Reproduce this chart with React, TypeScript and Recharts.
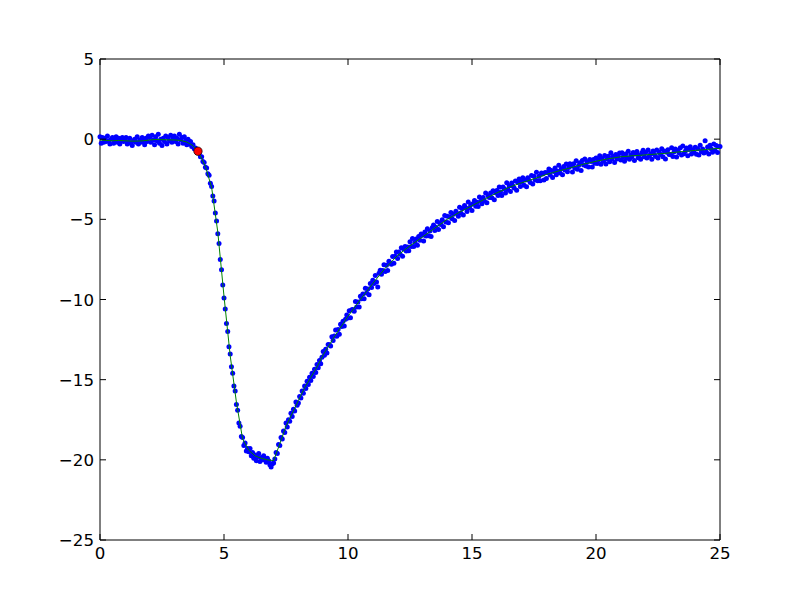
import {
  ComposedChart,
  Scatter,
  XAxis,
  YAxis,
} from "recharts";

// samples are taken every 0.05 on x, starting at 0
const SAMPLE_STEP = 0.05;

// x 0.00 .. 3.95 (flat baseline)
const baseline = [
  0.15, -0.25, 0.1, -0.2, 0.05, -0.15, 0.2, -0.1, -0.3, 0.0, 0.1, -0.25, -0.05, 0.15, -0.2, 0.05, -0.3, -0.1, 0.1, -0.15,
  -0.05, 0.1, -0.3, -0.15, 0.05, -0.25, -0.4, -0.1, 0.0, -0.2, 0.15, -0.3, -0.05, -0.2, 0.1, -0.1, -0.35, 0.05, -0.15, 0.2,
  0.1, -0.2, 0.25, -0.05, -0.35, 0.15, -0.1, 0.3, -0.25, 0.0, -0.4, 0.05, -0.15, 0.2, -0.3, 0.1, -0.1, 0.25, -0.2, 0.05,
  0.2, -0.15, 0.05, -0.3, 0.3, -0.05, 0.1, -0.25, 0.15, -0.1, -0.35, 0.0, -0.3, -0.15, -0.45, -0.35, -0.6, -0.55, -0.75, -0.8,
];

// x 4.00 .. 6.95 (drop and minimum)
const drop = [
  -0.85, -1.1, -1.1, -1.4, -1.45, -1.75, -1.8, -2.15, -2.25, -2.75, -2.95, -3.55, -3.85, -4.6, -5.1, -5.9, -6.5, -7.5, -8.15, -9.1,
  -9.9, -10.6, -11.5, -12.0, -12.95, -13.4, -14.2, -14.6, -15.4, -15.7, -16.55, -16.9, -17.7, -17.9, -18.55, -18.6, -19.1, -18.95, -19.45, -19.3,
  -19.5, -19.3, -19.75, -19.55, -19.9, -19.7, -20.05, -19.8, -19.6, -20.1, -19.85, -20.0, -19.75, -19.95, -20.15, -19.9, -20.05, -20.3, -20.45, -20.25,
];

// x 7.00 .. 14.95 (recovery)
const recovery = [
  -20.2, -19.95, -19.55, -19.6, -19.05, -19.1, -18.6, -18.7, -18.2, -18.3, -17.7, -17.95, -17.5, -17.6, -17.1, -17.3, -16.85, -16.95, -16.4, -16.6,
  -16.45, -16.05, -16.15, -15.7, -15.85, -15.4, -15.55, -15.1, -15.3, -14.85, -15.05, -14.6, -14.8, -14.35, -14.55, -14.05, -14.25, -13.8, -14.0, -13.6,
  -13.25, -13.48, -13.1, -13.33, -12.8, -12.83, -12.9, -12.33, -12.55, -12.28, -11.9, -12.29, -11.87, -12.16, -11.54, -11.68, -11.36, -11.65, -11.23, -10.97,
  -11.15, -10.7, -11.14, -10.64, -10.63, -10.73, -10.12, -10.47, -10.16, -10.46, -9.8, -9.95, -9.65, -9.95, -9.3, -9.6, -9.35, -9.7, -9.0, -9.25,
  -8.8, -9.0, -8.51, -8.91, -9.22, -8.37, -8.18, -8.43, -8.19, -7.84, -8.25, -7.87, -8.19, -7.61, -7.73, -7.8, -7.32, -7.74, -7.31, -7.03,
  -7.45, -7.04, -7.18, -6.77, -7.31, -6.85, -6.69, -6.98, -6.72, -6.96, -6.4, -6.7, -6.19, -6.69, -6.43, -6.23, -6.62, -6.07, -6.31, -5.91,
  -6.0, -6.35, -5.79, -6.04, -5.58, -6.03, -5.72, -6.07, -5.51, -5.36, -5.7, -5.5, -5.14, -5.64, -5.23, -5.33, -5.02, -5.47, -4.76, -5.16,
  -4.8, -5.21, -4.86, -4.57, -4.97, -4.68, -5.08, -4.49, -4.64, -4.8, -4.25, -4.61, -4.32, -4.73, -4.14, -4.3, -4.51, -3.92, -4.28, -4.09,
];

// x 15.00 .. 25.00 (slow tail)
const tail = [
  -4.45, -4.01, -3.82, -4.18, -3.94, -4.2, -3.61, -3.87, -4.03, -3.64, -3.85, -3.36, -3.97, -3.53, -3.64, -3.35, -3.66, -3.22, -3.78, -3.34,
  -3.2, -3.52, -2.98, -3.3, -3.51, -2.98, -3.09, -3.36, -2.72, -3.14, -2.9, -3.27, -2.74, -2.92, -3.04, -2.61, -3.18, -2.7, -2.48, -2.95,
  -2.67, -2.4, -2.87, -2.55, -2.97, -2.4, -2.57, -2.7, -2.27, -2.8, -2.32, -2.54, -2.07, -2.59, -2.31, -2.59, -2.11, -2.18, -2.55, -2.08,
  -2.45, -2.08, -1.86, -2.23, -1.96, -2.39, -2.02, -1.8, -2.22, -2.0, -1.63, -2.11, -1.84, -2.22, -1.7, -1.93, -1.55, -2.03, -1.76, -1.54,
  -1.67, -2.05, -1.53, -1.81, -1.34, -1.87, -1.64, -1.47, -1.95, -1.33, -1.61, -1.24, -1.67, -1.41, -1.74, -1.27, -1.4, -1.73, -1.27, -1.5,
  -1.18, -1.51, -1.3, -1.03, -1.57, -1.2, -1.38, -1.02, -1.55, -1.24, -1.07, -1.41, -0.85, -1.23, -1.07, -1.46, -0.95, -1.24, -1.07, -0.86,
  -1.3, -0.84, -1.09, -1.38, -0.92, -1.17, -0.76, -1.25, -0.99, -1.09, -0.83, -1.33, -0.92, -0.77, -1.16, -1.01, -1.25, -0.85, -0.69, -1.09,
  -0.83, -1.17, -0.67, -1.06, -0.91, -1.25, -0.74, -0.94, -1.08, -0.68, -1.17, -0.81, -0.96, -0.6, -1.09, -0.74, -1.23, -0.82, -0.66, -0.96,
  -0.95, -0.54, -1.08, -0.78, -0.62, -1.11, -0.7, -0.84, -0.54, -0.98, -0.42, -0.91, -0.76, -0.55, -1.04, -0.64, -0.48, -0.92, -0.66, -0.81,
  -0.5, -0.94, -0.59, -0.98, -0.38, -0.77, -0.61, -0.86, -0.1, -0.8, -0.49, -0.93, -0.38, -0.62, -0.81, -0.3, -0.7, -0.39, -0.83, -0.48,
  -0.45,
];

// fitted curve, every 0.25 on x
const FIT_STEP = 0.25;
const fitValues = [
  -0.05, -0.08, -0.1, -0.08,
  -0.1, -0.12, -0.12, -0.1,
  -0.05, -0.02, -0.03, -0.04,
  -0.05, -0.08, -0.18, -0.4,
  -0.9, -1.7, -3.0, -5.8,
  -9.8, -13.5, -16.4, -18.7,
  -19.4, -19.75, -19.9, -20.0,
  -20.05, -19.0, -17.9, -17.1,
  -16.3, -15.5, -14.86, -14.21,
  -13.45, -12.83, -12.2, -11.63,
  -11.05, -10.53, -10.0, -9.5,
  -9.0, -8.52, -8.05, -7.65,
  -7.25, -6.95, -6.65, -6.38,
  -6.1, -5.83, -5.55, -5.28,
  -5.0, -4.78, -4.55, -4.35,
  -4.15, -3.95, -3.75, -3.55,
  -3.35, -3.18, -3.0, -2.86,
  -2.72, -2.6, -2.47, -2.34,
  -2.2, -2.09, -1.98, -1.88,
  -1.77, -1.67, -1.56, -1.47,
  -1.38, -1.3, -1.22, -1.16,
  -1.1, -1.07, -1.03, -1.01,
  -0.98, -0.95, -0.92, -0.89,
  -0.85, -0.81, -0.77, -0.74,
  -0.7, -0.67, -0.64, -0.6,
  -0.57,
];

// the highlighted onset point
const onset = [{ x: 3.95, y: -0.75 }];

const xTicks = [0, 5, 10, 15, 20, 25];
const yTicks = [-25, -20, -15, -10, -5, 0, 5];

const samples = [...baseline, ...drop, ...recovery, ...tail].map((y, i) => ({
  x: +(i * SAMPLE_STEP).toFixed(2),
  y,
}));
const fit = fitValues.map((y, i) => ({ x: i * FIT_STEP, y }));

const FONT = "DejaVu Sans";
const FONT_SIZE = 16.67;
const TICK_LEN = 6;

const fmt = (v: number) => (v < 0 ? `\u2212${-v}` : `${v}`);

// ticks point inwards, matplotlib classic style
function BottomTick(props: any) {
  const { x, y, payload } = props;
  return (
    <g>
      <path d={`M${x},${y}V${y - TICK_LEN}`} stroke="#000" strokeWidth={1} fill="none" />
      <text
        x={x}
        y={y + 19}
        textAnchor="middle"
        fontFamily={FONT}
        fontSize={FONT_SIZE}
        fill="#000"
      >
        {fmt(payload.value)}
      </text>
    </g>
  );
}

function TopTick(props: any) {
  const { x, y } = props;
  return <path d={`M${x},${y}V${y + TICK_LEN}`} stroke="#000" strokeWidth={1} fill="none" />;
}

function LeftTick(props: any) {
  const { x, y, payload } = props;
  return (
    <g>
      <path d={`M${x},${y}H${x + TICK_LEN}`} stroke="#000" strokeWidth={1} fill="none" />
      <text
        x={x - 6}
        y={y}
        dy="0.36em"
        textAnchor="end"
        fontFamily={FONT}
        fontSize={FONT_SIZE}
        fill="#000"
      >
        {fmt(payload.value)}
      </text>
    </g>
  );
}

function RightTick(props: any) {
  const { x, y } = props;
  return <path d={`M${x},${y}H${x - TICK_LEN}`} stroke="#000" strokeWidth={1} fill="none" />;
}

const blueDot = (p: any) => (
  <circle cx={p.cx} cy={p.cy} r={2.5} fill="#0000ff" />
);

const noDot = () => <g />;

const redDot = (p: any) => (
  <circle cx={p.cx} cy={p.cy} r={4.2} fill="#ff0000" stroke="#000" strokeWidth={0.7} />
);

export default function App() {
  return (
    <div style={{ position: "absolute", left: 0, top: 0, width: 800, height: 600, background: "#fff" }}>
      <ComposedChart
        width={800}
        height={600}
        margin={{ top: 58, right: 79, bottom: 0, left: 40 }}
      >
        <XAxis
          type="number"
          dataKey="x"
          domain={[0, 25]}
          ticks={xTicks}
          interval={0}
          height={60}
          tickSize={0}
          tickMargin={0}
          tickLine={false}
          axisLine={{ stroke: "#000" }}
          tick={BottomTick}
        />
        <XAxis
          xAxisId="top"
          orientation="top"
          type="number"
          dataKey="x"
          domain={[0, 25]}
          ticks={xTicks}
          interval={0}
          height={1}
          tickSize={0}
          tickMargin={0}
          tickLine={false}
          axisLine={{ stroke: "#000" }}
          tick={TopTick}
        />
        <YAxis
          type="number"
          domain={[-25, 5]}
          ticks={yTicks}
          interval={0}
          width={60}
          tickSize={0}
          tickMargin={0}
          tickLine={false}
          axisLine={{ stroke: "#000" }}
          tick={LeftTick}
        />
        <YAxis
          yAxisId="right"
          orientation="right"
          type="number"
          domain={[-25, 5]}
          ticks={yTicks}
          interval={0}
          width={1}
          tickSize={0}
          tickMargin={0}
          tickLine={false}
          axisLine={{ stroke: "#000" }}
          tick={RightTick}
        />

        <Scatter
          data={samples}
          dataKey="y"
          shape={blueDot}
          isAnimationActive={false}
        />

        {/* fitted curve, drawn as a joined scatter so it sits over the dots */}
        <Scatter
          xAxisId="top"
          yAxisId="right"
          data={fit}
          dataKey="y"
          shape={noDot}
          line={{ stroke: "#008000", strokeWidth: 1 }}
          lineType="joint"
          isAnimationActive={false}
        />

        <Scatter
          data={onset}
          dataKey="y"
          shape={redDot}
          isAnimationActive={false}
        />
      </ComposedChart>
    </div>
  );
}
